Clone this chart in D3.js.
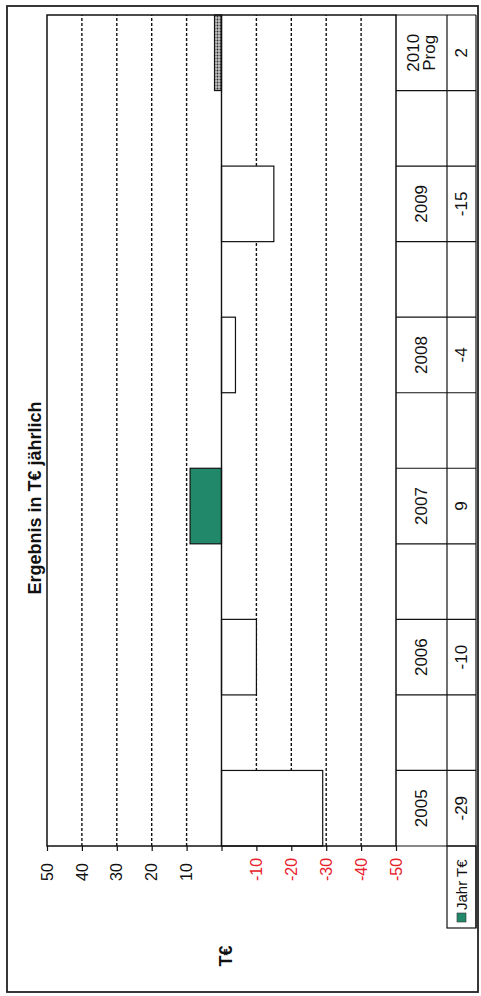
<!DOCTYPE html>
<html>
<head>
  <meta charset="utf-8" />
  <script src="https://d3js.org/d3.v7.min.js"></script>
  <style>
    * {
      margin: 0;
      padding: 0;
    }

    body {
      background-color: #fff;
      width: 481px;
      height: 996px;
      overflow: hidden;
    }

    svg text {
      font-family: "Liberation Sans", Arial, sans-serif;
    }
  </style>
</head>
<body>
  <svg width="481" height="996"></svg>

  <script>
    // data
    const years = ["2005", "2006", "2007", "2008", "2009", "2010 Prog"];
    const values = [-29, -10, 9, -4, -15, 2];
    const tickValues = [50, 40, 30, 20, 10, 0, -10, -20, -30, -40, -50];
    const seriesName = "Jahr T€";
    const title = "Ergebnis in T€ jährlich";
    const unitLabel = "T€";

    const green = "#21896a";

    const svg = d3.select("svg");

    // the page is scanned sideways: draw the chart upright, then turn it
    const W = 996, H = 481;
    const g = svg.append("g").attr("transform", `translate(0,${W}) rotate(-90)`);

    // pattern for the forecast bar
    const defs = svg.append("defs");
    const pat = defs.append("pattern")
      .attr("id", "dots")
      .attr("width", 3)
      .attr("height", 3)
      .attr("patternUnits", "userSpaceOnUse");
    pat.append("rect").attr("width", 3).attr("height", 3).attr("fill", "#ccc");
    pat.append("circle").attr("cx", 1.5).attr("cy", 1.5).attr("r", 1.1).attr("fill", "#333");

    // outer frame
    g.append("rect")
      .attr("x", 4).attr("y", 7)
      .attr("width", 986).attr("height", 471)
      .attr("fill", "none")
      .attr("stroke", "#222")
      .attr("stroke-width", 1.8);

    const plot = { left: 150, right: 981, top: 47, bottom: 396 };

    // years sit in every other slot, empty slots between them
    const slots = [];
    years.forEach((yr, i) => {
      slots.push(yr);
      if (i < years.length - 1) slots.push("gap" + i);
    });

    const x = d3.scaleBand()
      .domain(slots)
      .range([plot.left, plot.right])
      .padding(0);

    const y = d3.scaleLinear()
      .domain([-50, 50])
      .range([plot.bottom, plot.top]);

    // grid
    g.append("g")
      .selectAll("line")
      .data(tickValues.filter(d => Math.abs(d) !== 50 && d !== 0))
      .join("line")
      .attr("x1", plot.left)
      .attr("x2", plot.right)
      .attr("y1", d => y(d))
      .attr("y2", d => y(d))
      .attr("stroke", "#111")
      .attr("stroke-width", 1.4)
      .attr("stroke-dasharray", "3,2");

    // bars
    const data = years.map((yr, i) => ({ year: yr, value: values[i] }));

    g.append("g")
      .selectAll("rect")
      .data(data)
      .join("rect")
      .attr("x", d => x(d.year))
      .attr("width", x.bandwidth())
      .attr("y", d => y(Math.max(0, d.value)))
      .attr("height", d => Math.abs(y(d.value) - y(0)))
      .attr("fill", d => d.year.includes("Prog") ? "url(#dots)" : (d.value > 0 ? green : "#fff"))
      .attr("stroke", "#111")
      .attr("stroke-width", 1.2);

    // zero line
    g.append("line")
      .attr("x1", plot.left).attr("x2", plot.right)
      .attr("y1", y(0)).attr("y2", y(0))
      .attr("stroke", "#111")
      .attr("stroke-width", 1.4);

    // plot border
    g.append("rect")
      .attr("x", plot.left).attr("y", plot.top)
      .attr("width", plot.right - plot.left)
      .attr("height", plot.bottom - plot.top)
      .attr("fill", "none")
      .attr("stroke", "#111")
      .attr("stroke-width", 1.5);

    // value axis
    const axis = g.append("g")
      .attr("transform", `translate(${plot.left},0)`)
      .call(d3.axisLeft(y).tickValues(tickValues).tickSize(5).tickFormat(d => d === 0 ? "" : d));
    axis.select(".domain").remove();
    axis.selectAll(".tick line").attr("stroke", "#111").attr("stroke-width", 1.2);
    axis.selectAll(".tick text")
      .attr("x", -35)
      .attr("text-anchor", "start")
      .attr("font-size", 16)
      .attr("font-family", "Liberation Sans, Arial, sans-serif")
      .attr("fill", d => d < 0 ? "#e8202a" : "#111");

    // data table under the plot
    const row1 = [plot.bottom, 447];
    const row2 = [447, 476];
    const table = g.append("g");

    table.append("line")
      .attr("x1", plot.left).attr("x2", plot.right)
      .attr("y1", row1[1]).attr("y2", row1[1])
      .attr("stroke", "#111").attr("stroke-width", 1.2);
    table.append("line")
      .attr("x1", 68).attr("x2", plot.right)
      .attr("y1", row2[1]).attr("y2", row2[1])
      .attr("stroke", "#111").attr("stroke-width", 1.2);

    const edges = slots.map(s => x(s)).concat([plot.right]);
    table.selectAll("line.edge")
      .data(edges)
      .join("line")
      .attr("class", "edge")
      .attr("x1", d => d).attr("x2", d => d)
      .attr("y1", row1[0]).attr("y2", row2[1])
      .attr("stroke", "#111")
      .attr("stroke-width", 1.2);

    const labels = table.selectAll("text.cat")
      .data(data)
      .join("text")
      .attr("class", "cat")
      .attr("text-anchor", "middle")
      .attr("font-size", 17)
      .attr("fill", "#111");
    labels.each(function (d) {
      const parts = d.year.split(" ");
      const cx = x(d.year) + x.bandwidth() / 2;
      const mid = (row1[0] + row1[1]) / 2;
      const el = d3.select(this);
      parts.forEach((p, i) => {
        el.append("tspan")
          .attr("x", cx)
          .attr("y", mid + (i - (parts.length - 1) / 2) * 16)
          .attr("dy", "0.35em")
          .text(p);
      });
    });

    table.selectAll("text.val")
      .data(data)
      .join("text")
      .attr("class", "val")
      .attr("x", d => x(d.year) + x.bandwidth() / 2)
      .attr("y", (row2[0] + row2[1]) / 2)
      .attr("dy", "0.35em")
      .attr("text-anchor", "middle")
      .attr("font-size", 17)
      .attr("fill", "#111")
      .text(d => d.value);

    // legend cell
    table.append("rect")
      .attr("x", 68).attr("y", row2[0])
      .attr("width", plot.left - 68).attr("height", row2[1] - row2[0])
      .attr("fill", "none")
      .attr("stroke", "#111")
      .attr("stroke-width", 1.2);
    table.append("rect")
      .attr("x", 74).attr("y", (row2[0] + row2[1]) / 2 - 4.5)
      .attr("width", 9).attr("height", 9)
      .attr("fill", green)
      .attr("stroke", "#333")
      .attr("stroke-width", 0.6);
    table.append("text")
      .attr("x", 86)
      .attr("y", (row2[0] + row2[1]) / 2)
      .attr("dy", "0.35em")
      .attr("font-size", 15)
      .attr("fill", "#111")
      .text(seriesName);

    // titles
    g.append("text")
      .attr("x", 498)
      .attr("y", 35)
      .attr("dy", "0.35em")
      .attr("text-anchor", "middle")
      .attr("font-size", 18)
      .attr("font-weight", "bold")
      .attr("fill", "#111")
      .text(title);

    g.append("text")
      .attr("x", 40)
      .attr("y", 226)
      .attr("dy", "0.35em")
      .attr("text-anchor", "middle")
      .attr("font-size", 18)
      .attr("font-weight", "bold")
      .attr("fill", "#111")
      .text(unitLabel);
  </script>
</body>
</html>
